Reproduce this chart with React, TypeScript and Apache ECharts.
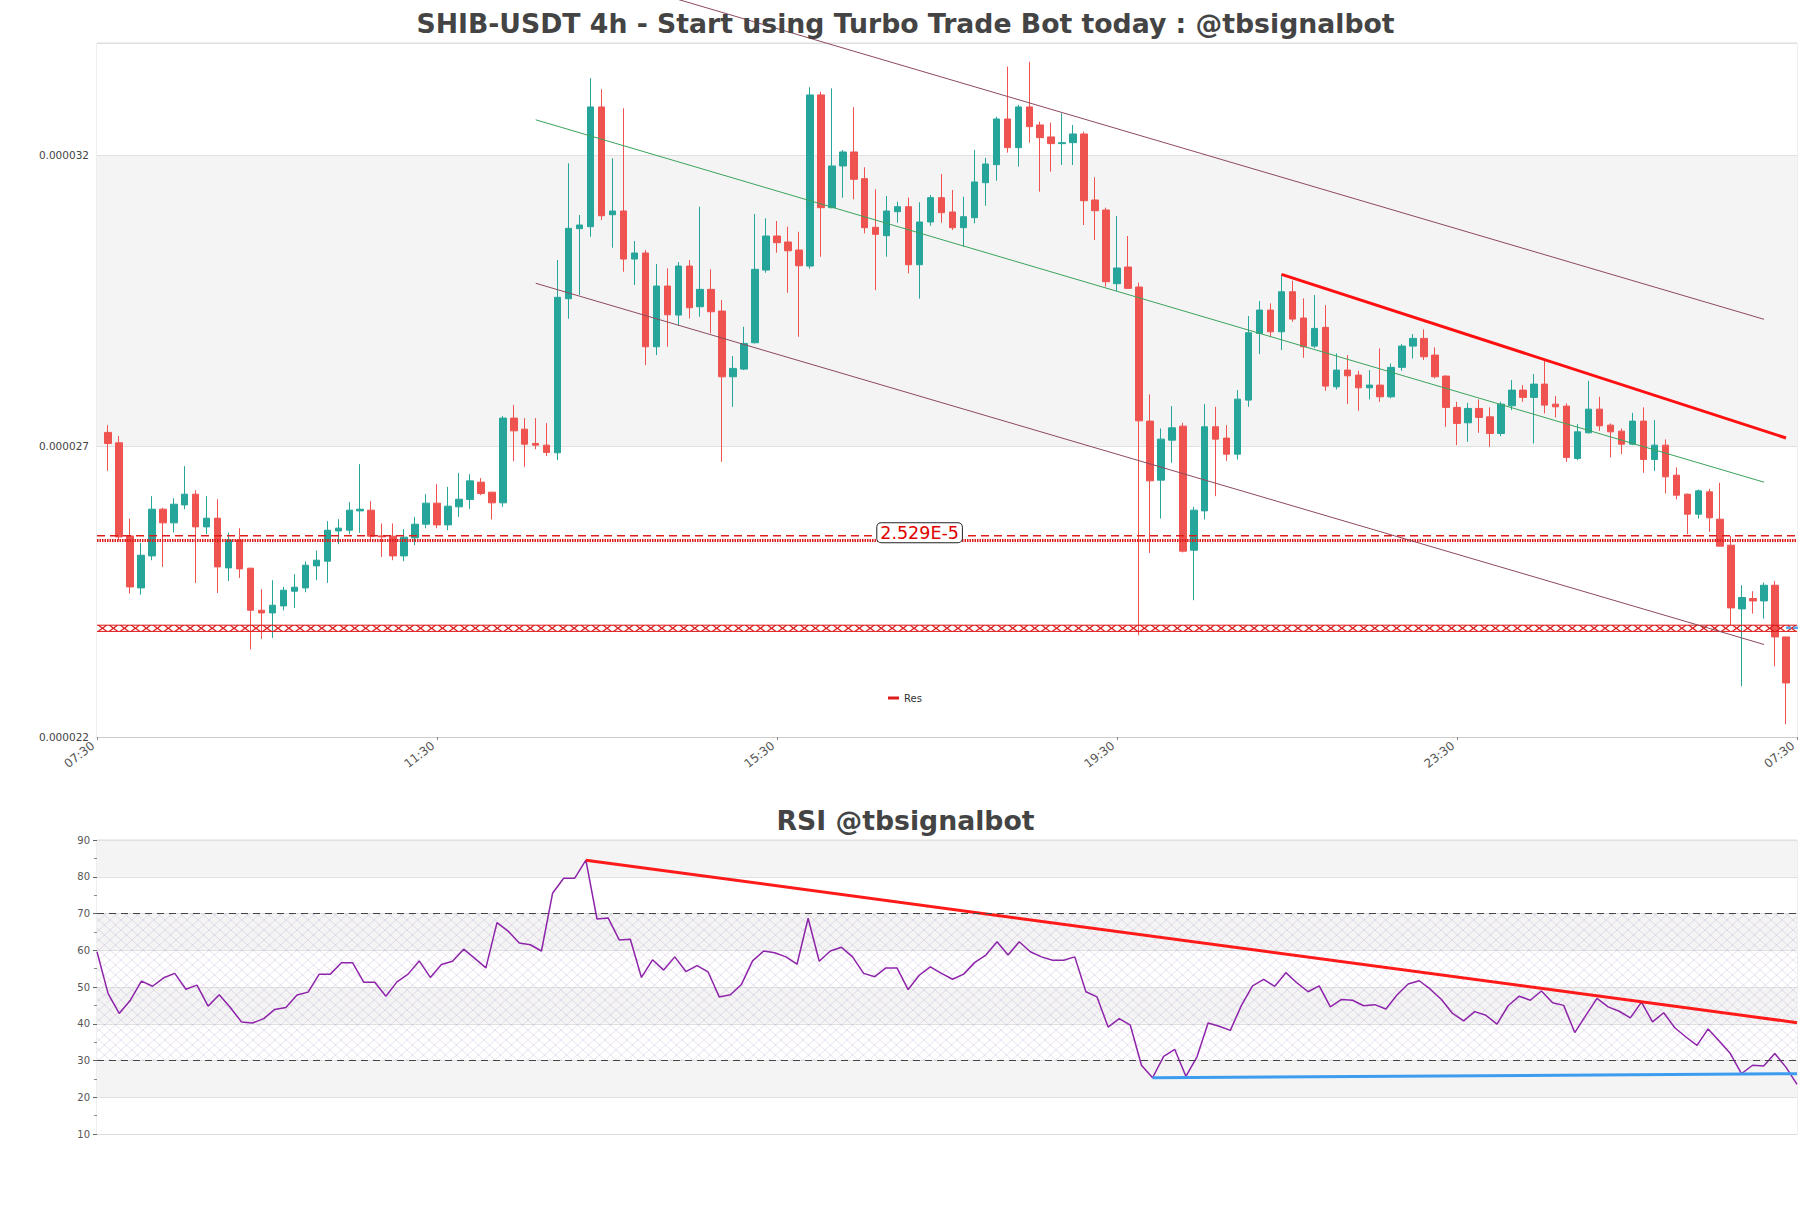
import React, { useEffect, useRef } from 'react';
import * as echarts from 'echarts';

// ---------- data ----------
const xTickLabels = ['07:30', '11:30', '15:30', '19:30', '23:30', '07:30'];

const opens = [
  27.236e-6, 27.057e-6, 25.457e-6, 24.563e-6, 25.113e-6, 25.916e-6, 25.681e-6, 25.99e-6, 26.174e-6, 25.612e-6,
  25.762e-6, 24.907e-6, 25.388e-6, 24.902e-6, 24.179e-6, 24.133e-6, 24.253e-6, 24.506e-6, 24.563e-6, 24.941e-6,
  25.022e-6, 25.543e-6, 25.555e-6, 25.887e-6, 25.899e-6, 25.457e-6, 25.452e-6, 25.113e-6, 25.423e-6, 25.658e-6,
  26.02e-6, 25.646e-6, 25.956e-6, 26.083e-6, 26.381e-6, 26.209e-6, 26.025e-6, 27.482e-6, 27.292e-6, 27.046e-6,
  27.017e-6, 26.885e-6, 29.534e-6, 30.738e-6, 30.772e-6, 32.831e-6, 30.978e-6, 31.042e-6, 30.216e-6, 30.32e-6,
  28.708e-6, 29.752e-6, 29.253e-6, 30.096e-6, 29.396e-6, 29.695e-6, 29.322e-6, 28.192e-6, 28.324e-6, 28.777e-6,
  30.027e-6, 30.612e-6, 30.509e-6, 30.371e-6, 30.096e-6, 33.037e-6, 31.099e-6, 31.816e-6, 32.057e-6, 31.598e-6,
  30.762e-6, 30.617e-6, 31.03e-6, 31.116e-6, 30.118e-6, 30.853e-6, 31.271e-6, 31.025e-6, 30.755e-6, 30.927e-6,
  31.529e-6, 31.838e-6, 32.624e-6, 32.131e-6, 32.831e-6, 32.521e-6, 32.315e-6, 32.2e-6, 32.217e-6, 32.366e-6,
  31.231e-6, 31.059e-6, 29.792e-6, 30.079e-6, 29.735e-6, 27.43e-6, 26.415e-6, 27.103e-6, 27.344e-6, 25.211e-6,
  25.887e-6, 27.332e-6, 27.138e-6, 26.862e-6, 27.791e-6, 28.938e-6, 29.339e-6, 28.966e-6, 29.654e-6, 29.202e-6,
  28.72e-6, 29.042e-6, 28.02e-6, 28.307e-6, 28.221e-6, 28.003e-6, 28.049e-6, 27.848e-6, 28.354e-6, 28.72e-6,
  28.852e-6, 28.565e-6, 28.204e-6, 27.666e-6, 27.401e-6, 27.648e-6, 27.504e-6, 27.218e-6, 27.693e-6, 27.963e-6,
  27.838e-6, 28.066e-6, 27.722e-6, 27.688e-6, 26.788e-6, 27.229e-6, 27.636e-6, 27.361e-6, 27.258e-6, 27.034e-6,
  27.43e-6, 26.771e-6, 27.017e-6, 26.501e-6, 26.174e-6, 25.83e-6, 26.214e-6, 25.744e-6, 25.297e-6, 24.202e-6,
  24.38e-6, 24.339e-6, 24.609e-6, 23.72e-6,
];

const closes = [
  27.046e-6, 25.44e-6, 24.58e-6, 25.125e-6, 25.916e-6, 25.681e-6, 26.002e-6, 26.174e-6, 25.612e-6, 25.762e-6,
  24.924e-6, 25.388e-6, 24.89e-6, 24.179e-6, 24.133e-6, 24.265e-6, 24.523e-6, 24.575e-6, 24.953e-6, 25.039e-6,
  25.555e-6, 25.59e-6, 25.899e-6, 25.916e-6, 25.452e-6, 25.44e-6, 25.113e-6, 25.435e-6, 25.658e-6, 26.02e-6,
  25.646e-6, 25.968e-6, 26.088e-6, 26.403e-6, 26.186e-6, 26.025e-6, 27.482e-6, 27.263e-6, 27.034e-6, 27.017e-6,
  26.892e-6, 29.558e-6, 30.744e-6, 30.801e-6, 32.831e-6, 30.961e-6, 31.042e-6, 30.216e-6, 30.32e-6, 28.708e-6,
  29.752e-6, 29.258e-6, 30.096e-6, 29.379e-6, 29.695e-6, 29.31e-6, 28.192e-6, 28.336e-6, 28.766e-6, 30.039e-6,
  30.612e-6, 30.497e-6, 30.359e-6, 30.101e-6, 33.037e-6, 31.099e-6, 31.816e-6, 32.057e-6, 31.587e-6, 30.755e-6,
  30.641e-6, 31.042e-6, 31.116e-6, 30.118e-6, 30.853e-6, 31.271e-6, 31.013e-6, 30.755e-6, 30.944e-6, 31.541e-6,
  31.85e-6, 32.624e-6, 32.131e-6, 32.831e-6, 32.492e-6, 32.303e-6, 32.2e-6, 32.217e-6, 32.366e-6, 31.219e-6,
  31.047e-6, 29.826e-6, 30.062e-6, 29.712e-6, 27.435e-6, 26.403e-6, 27.12e-6, 27.315e-6, 25.194e-6, 25.899e-6,
  27.332e-6, 27.12e-6, 26.862e-6, 27.808e-6, 28.949e-6, 29.339e-6, 28.966e-6, 29.654e-6, 29.184e-6, 28.708e-6,
  29.024e-6, 28.032e-6, 28.307e-6, 28.209e-6, 28.003e-6, 28.049e-6, 27.848e-6, 28.354e-6, 28.72e-6, 28.852e-6,
  28.536e-6, 28.192e-6, 27.666e-6, 27.39e-6, 27.648e-6, 27.494e-6, 27.218e-6, 27.722e-6, 27.963e-6, 27.838e-6,
  28.066e-6, 27.705e-6, 27.676e-6, 26.806e-6, 27.246e-6, 27.636e-6, 27.349e-6, 27.246e-6, 27.034e-6, 27.43e-6,
  26.771e-6, 27.017e-6, 26.472e-6, 26.157e-6, 25.83e-6, 26.231e-6, 25.767e-6, 25.28e-6, 24.219e-6, 24.398e-6,
  24.339e-6, 24.609e-6, 23.72e-6, 22.929e-6,
];

const lows = [
  26.575e-6, 25.383e-6, 24.466e-6, 24.449e-6, 25.039e-6, 24.924e-6, 25.516e-6, 25.916e-6, 24.649e-6, 25.486e-6,
  24.477e-6, 24.683e-6, 24.735e-6, 23.503e-6, 23.686e-6, 23.703e-6, 24.179e-6, 24.219e-6, 24.489e-6, 24.695e-6,
  24.649e-6, 25.314e-6, 25.486e-6, 25.509e-6, 25.383e-6, 25.096e-6, 25.039e-6, 25.022e-6, 25.297e-6, 25.59e-6,
  25.59e-6, 25.555e-6, 25.784e-6, 25.922e-6, 26.157e-6, 25.739e-6, 25.956e-6, 26.742e-6, 26.644e-6, 26.948e-6,
  26.828e-6, 26.759e-6, 29.19e-6, 29.597e-6, 30.6e-6, 30.887e-6, 30.411e-6, 29.998e-6, 29.769e-6, 28.393e-6,
  28.565e-6, 28.708e-6, 29.081e-6, 29.196e-6, 29.224e-6, 28.938e-6, 26.73e-6, 27.676e-6, 28.307e-6, 28.766e-6,
  29.981e-6, 30.325e-6, 29.637e-6, 28.88e-6, 30.05e-6, 30.256e-6, 31.088e-6, 31.271e-6, 31.243e-6, 30.658e-6,
  29.683e-6, 30.256e-6, 30.841e-6, 29.97e-6, 29.534e-6, 30.789e-6, 30.841e-6, 30.715e-6, 30.428e-6, 30.83e-6,
  31.133e-6, 31.563e-6, 32.045e-6, 31.804e-6, 32.217e-6, 31.374e-6, 31.718e-6, 31.833e-6, 31.833e-6, 30.801e-6,
  30.543e-6, 29.74e-6, 29.666e-6, 29.706e-6, 23.749e-6, 25.165e-6, 25.756e-6, 26.713e-6, 25.172e-6, 24.351e-6,
  25.739e-6, 26.14e-6, 26.747e-6, 26.771e-6, 27.676e-6, 28.582e-6, 28.87e-6, 28.651e-6, 29.138e-6, 28.519e-6,
  28.686e-6, 27.951e-6, 27.975e-6, 27.722e-6, 27.607e-6, 27.803e-6, 27.762e-6, 27.82e-6, 28.295e-6, 28.508e-6,
  28.479e-6, 28.164e-6, 27.332e-6, 27.017e-6, 27.074e-6, 27.229e-6, 26.988e-6, 27.172e-6, 27.619e-6, 27.762e-6,
  27.046e-6, 27.562e-6, 27.494e-6, 26.73e-6, 26.759e-6, 27.218e-6, 27.263e-6, 26.806e-6, 26.862e-6, 27.017e-6,
  26.541e-6, 26.575e-6, 26.186e-6, 26.083e-6, 25.486e-6, 25.756e-6, 25.526e-6, 25.28e-6, 23.921e-6, 22.872e-6,
  24.122e-6, 24.036e-6, 23.216e-6, 22.218e-6,
];

const highs = [
  27.361e-6, 27.172e-6, 25.756e-6, 25.337e-6, 26.14e-6, 25.939e-6, 26.106e-6, 26.656e-6, 26.243e-6, 26.14e-6,
  26.088e-6, 25.516e-6, 25.59e-6, 24.902e-6, 24.54e-6, 24.695e-6, 24.58e-6, 24.798e-6, 25.017e-6, 25.206e-6,
  25.71e-6, 25.744e-6, 26.037e-6, 26.69e-6, 26.054e-6, 25.67e-6, 25.67e-6, 25.572e-6, 25.784e-6, 26.174e-6,
  26.346e-6, 26.3e-6, 26.541e-6, 26.518e-6, 26.45e-6, 26.209e-6, 27.516e-6, 27.705e-6, 27.482e-6, 27.482e-6,
  27.396e-6, 30.199e-6, 31.862e-6, 30.973e-6, 33.324e-6, 33.135e-6, 31.948e-6, 32.808e-6, 30.526e-6, 30.371e-6,
  30.13e-6, 30.056e-6, 30.165e-6, 30.199e-6, 31.116e-6, 30.039e-6, 29.511e-6, 28.548e-6, 29.052e-6, 30.99e-6,
  30.916e-6, 30.87e-6, 30.772e-6, 30.686e-6, 33.17e-6, 33.09e-6, 33.152e-6, 32.091e-6, 32.826e-6, 31.794e-6,
  31.415e-6, 31.3e-6, 31.202e-6, 31.271e-6, 31.192e-6, 31.317e-6, 31.678e-6, 31.403e-6, 31.288e-6, 32.091e-6,
  31.954e-6, 32.664e-6, 33.524e-6, 32.865e-6, 33.605e-6, 32.578e-6, 32.561e-6, 32.722e-6, 32.521e-6, 32.406e-6,
  31.622e-6, 31.099e-6, 30.956e-6, 30.612e-6, 29.812e-6, 27.889e-6, 27.304e-6, 27.688e-6, 27.401e-6, 25.956e-6,
  27.722e-6, 27.676e-6, 27.361e-6, 27.963e-6, 29.236e-6, 29.494e-6, 29.454e-6, 29.953e-6, 29.843e-6, 29.54e-6,
  29.597e-6, 29.425e-6, 28.594e-6, 28.565e-6, 28.295e-6, 28.307e-6, 28.68e-6, 28.422e-6, 28.754e-6, 28.926e-6,
  29.007e-6, 28.698e-6, 28.221e-6, 27.762e-6, 27.745e-6, 27.803e-6, 27.666e-6, 27.762e-6, 28.135e-6, 28.049e-6,
  28.238e-6, 28.491e-6, 27.86e-6, 27.734e-6, 27.378e-6, 28.123e-6, 27.848e-6, 27.39e-6, 27.304e-6, 27.573e-6,
  27.666e-6, 27.447e-6, 27.115e-6, 26.634e-6, 26.186e-6, 26.255e-6, 26.266e-6, 26.369e-6, 25.452e-6, 24.609e-6,
  24.506e-6, 24.656e-6, 24.683e-6, 23.72e-6,
];

const rsi = [
  59.6, 48.2, 42.8, 46.4, 51.6, 50.2, 52.5, 53.7, 49.4, 50.5,
  44.8, 47.9, 44.4, 40.5, 40.2, 41.4, 43.9, 44.4, 47.8, 48.6,
  53.5, 53.5, 56.6, 56.6, 51.3, 51.3, 47.5, 51.4, 53.5, 57.1,
  52.6, 56.1, 57.0, 60.3, 57.8, 55.2, 67.5, 65.2, 62.0, 61.5,
  59.8, 75.5, 79.6, 79.6, 84.5, 68.5, 68.8, 62.8, 63.0, 52.6,
  57.4, 54.6, 58.2, 54.2, 55.8, 54.1, 47.3, 47.9, 50.7, 57.1,
  59.8, 59.3, 58.2, 56.2, 68.7, 57.0, 59.8, 60.8, 58.2, 53.7,
  52.8, 55.2, 55.2, 49.3, 53.2, 55.5, 53.7, 52.1, 53.5, 56.7,
  58.7, 62.3, 58.7, 62.3, 59.6, 58.2, 57.3, 57.3, 58.2, 48.7,
  47.3, 39.1, 41.4, 39.6, 28.7, 25.3, 31.1, 33.0, 25.7, 31.0,
  40.2, 39.3, 38.2, 45.0, 50.3, 52.1, 50.2, 53.9, 51.1, 48.7,
  50.3, 44.6, 46.6, 46.4, 44.9, 45.2, 44.0, 47.8, 50.8, 51.7,
  49.4, 46.6, 42.8, 40.8, 43.3, 42.3, 39.9, 44.9, 47.5, 46.4,
  48.9, 45.7, 45.0, 37.6, 42.3, 46.9, 44.6, 43.4, 41.6, 45.9,
  40.5, 43.0, 38.9, 36.4, 34.1, 38.6, 35.3, 31.9, 26.4, 28.7,
  28.5, 31.9, 28.2, 23.5,
];

// trend lines [categoryIndex, value]
const channelUpper = [[40, 35.40e-6], [152, 29.18e-6]];
const channelMid = [[40, 32.61e-6], [152, 26.38e-6]];
const channelLower = [[40, 29.80e-6], [152, 23.59e-6]];
const resistanceLine = [[108, 29.953e-6], [154, 27.14e-6]];

// horizontal levels
const levelDashed = 25.46e-6;
const levelDotted = 25.38e-6;
const levelLabelText = '2.529E-5';
const levelLabelCat = 75;
const resLevel = 23.87e-6;
const resBandTop = 23.922e-6;
const resBandBottom = 23.815e-6;
const blueStub = [[154, 23.88e-6], [156, 23.88e-6]];

const rsiResistance = [[44, 84.5], [153, 40.3]];
const rsiSupport = [[95, 25.3], [153, 26.4]];
const rsiUpper = 70;
const rsiLower = 30;

// ---------- helpers ----------
const FONT = 'DejaVu Sans';
const catCount = opens.length + 2;
const lastCat = catCount - 1;
const categories: string[] = [];
for (let i = 0; i < catCount; i++) {
  categories.push(i % 31 === 0 ? xTickLabels[i / 31] ?? '' : '');
}
const candleData: any[] = [['-', '-', '-', '-']];
for (let i = 0; i < opens.length; i++) {
  candleData.push([opens[i], closes[i], lows[i], highs[i]]);
}
candleData.push(['-', '-', '-', '-']);
// Res band marks sit between neighbouring category slots (hidden value x-axis 0..lastCat)
const resData: number[][] = [];
for (let k = 0; k < lastCat; k++) resData.push([k + 0.5, resLevel]);
const rsiCats = rsi.map((_, i) => String(i));
const fullWidth = (v: number) => [[0, v], [lastCat, v]];

const hatchSvg =
  "<svg xmlns='http://www.w3.org/2000/svg' width='11' height='10'><path d='M0 0L11 10M11 0L0 10' stroke='rgba(150,120,185,0.32)' stroke-width='0.7' fill='none'/></svg>";
const hatchUrl = 'data:image/svg+xml;charset=utf-8,' + encodeURIComponent(hatchSvg);

const BAND_COLORS = ['#ffffff', '#f4f4f4'];
const RED = '#dd1c1c';
const X_SYMBOL = 'path://M0 0H1.9L5 3.7L8.1 0H10L6.1 5L10 10H8.1L5 6.3L1.9 10H0L3.9 5Z';

const mainLine = (name: string, data: any, lineStyle: any, z = 4, clip = false) => ({
  type: 'line',
  name,
  xAxisIndex: 0,
  yAxisIndex: 0,
  data,
  showSymbol: false,
  clip,
  silent: true,
  lineStyle,
  z,
});

const option: any = {
  animation: false,
  backgroundColor: '#fff',
  title: [
    {
      text: 'SHIB-USDT 4h - Start using Turbo Trade Bot today : @tbsignalbot',
      left: 'center',
      top: 5,
      textStyle: { fontFamily: FONT, fontSize: 26.7, fontWeight: 'bold', color: '#444' },
    },
    {
      text: 'RSI @tbsignalbot',
      left: 'center',
      top: 802,
      textStyle: { fontFamily: FONT, fontSize: 26.7, fontWeight: 'bold', color: '#444' },
    },
  ],
  legend: {
    data: [{ name: 'Res', icon: 'rect', itemStyle: { color: RED, borderWidth: 0 } }],
    left: 883,
    top: 688,
    itemWidth: 11,
    itemHeight: 3,
    itemGap: 4,
    textStyle: { fontFamily: FONT, fontSize: 10, color: '#333' },
  },
  grid: [
    { left: 97, right: 14, top: 43, height: 694, show: true, borderColor: '#ddd', borderWidth: 1, backgroundColor: 'transparent' },
    { left: 97, right: 14, top: 840, height: 294, show: true, borderColor: '#ddd', borderWidth: 1, backgroundColor: 'transparent' },
  ],
  xAxis: [
    {
      type: 'category',
      gridIndex: 0,
      data: categories,
      boundaryGap: false,
      axisLine: { lineStyle: { color: '#ccc' } },
      axisTick: { show: true, interval: 30, length: 3, lineStyle: { color: '#888' } },
      axisLabel: {
        interval: 30,
        rotate: 38,
        fontFamily: FONT,
        fontSize: 12,
        color: '#555',
        margin: 4,
        padding: [0, 5, 0, 0],
      },
      splitLine: { show: false },
    },
    {
      type: 'category',
      gridIndex: 1,
      data: rsiCats,
      boundaryGap: false,
      axisLine: { lineStyle: { color: '#ddd' } },
      axisTick: { show: false },
      axisLabel: { show: false },
      splitLine: { show: false },
    },
    {
      type: 'value',
      gridIndex: 0,
      min: 0,
      max: lastCat,
      show: false,
    },
  ],
  yAxis: [
    {
      type: 'value',
      gridIndex: 0,
      min: 22e-6,
      max: 33.93e-6,
      interval: 5e-6,
      axisLine: { show: false },
      axisTick: { show: false },
      axisLabel: {
        fontFamily: FONT,
        fontSize: 10.5,
        color: '#444',
        showMaxLabel: false,
        margin: 8,
        formatter: (v: number) => v.toFixed(6),
      },
      splitLine: { show: true, lineStyle: { color: '#e0e0e0' } },
      splitArea: { show: true, areaStyle: { color: BAND_COLORS } },
    },
    {
      type: 'value',
      gridIndex: 1,
      min: 10,
      max: 90,
      interval: 10,
      axisLine: { show: false },
      axisTick: { show: true, length: 4, lineStyle: { color: '#666' } },
      minorTick: { show: true, splitNumber: 2, length: 3, lineStyle: { color: '#888' } },
      axisLabel: { fontFamily: FONT, fontSize: 10, color: '#555', margin: 7 },
      splitLine: { show: true, lineStyle: { color: '#e0e0e0' } },
      splitArea: { show: true, areaStyle: { color: BAND_COLORS } },
    },
  ],
  series: [
    {
      type: 'candlestick',
      name: 'Price',
      xAxisIndex: 0,
      yAxisIndex: 0,
      data: candleData,
      barWidth: 7,
      itemStyle: {
        color: '#26a69a',
        color0: '#ef5350',
        borderColor: '#26a69a',
        borderColor0: '#ef5350',
        borderWidth: 1,
      },
      markPoint: {
        silent: true,
        symbol: 'rect',
        symbolSize: 1,
        itemStyle: { color: 'transparent' },
        data: [{ coord: [levelLabelCat, levelDashed], value: levelLabelText }],
        label: {
          show: true,
          position: 'inside',
          offset: [0, -3],
          formatter: levelLabelText,
          fontFamily: FONT,
          fontSize: 17.5,
          color: '#e00000',
          backgroundColor: '#fff',
          borderColor: '#222',
          borderWidth: 1,
          borderRadius: 4,
          padding: [1, 3, 0, 3],
        },
      },
      z: 2,
    },
    mainLine('levelDashed', fullWidth(levelDashed), { type: [8, 5], width: 1.5, color: RED }, 3, true),
    mainLine('levelDotted', fullWidth(levelDotted), { type: [1.5, 1], width: 3, color: RED }, 3, true),
    mainLine('resTop', fullWidth(resBandTop), { width: 1, color: RED }, 3, true),
    mainLine('resBottom', fullWidth(resBandBottom), { width: 1, color: RED }, 3, true),
    {
      type: 'line',
      name: 'Res',
      xAxisIndex: 2,
      yAxisIndex: 0,
      data: resData,
      color: RED,
      symbol: X_SYMBOL,
      symbolSize: [10.2, 6.2],
      showSymbol: true,
      showAllSymbol: true,
      silent: true,
      itemStyle: { color: RED, borderWidth: 0 },
      lineStyle: { width: 0, opacity: 0 },
      z: 3,
    },
    mainLine('blueStub', blueStub, { color: '#5aa4ec', width: 2.5, type: [5, 2] }, 4, false),
    mainLine('upper', channelUpper, { color: '#8d4a5c', width: 1 }),
    mainLine('mid', channelMid, { color: '#3aa35c', width: 1 }),
    mainLine('lower', channelLower, { color: '#8d4a5c', width: 1 }),
    mainLine('resistance', resistanceLine, { color: '#ff1010', width: 3 }, 5),
    {
      type: 'line',
      name: 'RSI',
      xAxisIndex: 1,
      yAxisIndex: 1,
      data: rsi,
      showSymbol: false,
      lineStyle: { color: '#8e24aa', width: 1.5 },
      markArea: {
        silent: true,
        itemStyle: {
          color: { image: hatchUrl, repeat: 'repeat', imageWidth: 11, imageHeight: 10 },
        },
        data: [[{ yAxis: rsiLower }, { yAxis: rsiUpper }]],
      },
      markLine: {
        silent: true,
        symbol: 'none',
        label: { show: false },
        lineStyle: { type: [7, 5], width: 1.2, color: '#444' },
        data: [{ yAxis: rsiUpper }, { yAxis: rsiLower }],
      },
      z: 3,
    },
    {
      type: 'line',
      name: 'rsiRes',
      xAxisIndex: 1,
      yAxisIndex: 1,
      data: rsiResistance,
      showSymbol: false,
      lineStyle: { color: '#ff1a1a', width: 3 },
      z: 4,
    },
    {
      type: 'line',
      name: 'rsiSup',
      xAxisIndex: 1,
      yAxisIndex: 1,
      data: rsiSupport,
      showSymbol: false,
      lineStyle: { color: '#3c9cf0', width: 3 },
      z: 4,
    },
  ],
};

export default function App() {
  const ref = useRef<HTMLDivElement>(null);
  useEffect(() => {
    if (!ref.current) return;
    const chart = echarts.init(ref.current, null, { renderer: 'svg' });
    chart.setOption(option);
    return () => chart.dispose();
  }, []);
  return (
    <div
      ref={ref}
      style={{ position: 'fixed', left: 0, top: 0, width: 1811, height: 1208, background: '#fff' }}
    />
  );
}
